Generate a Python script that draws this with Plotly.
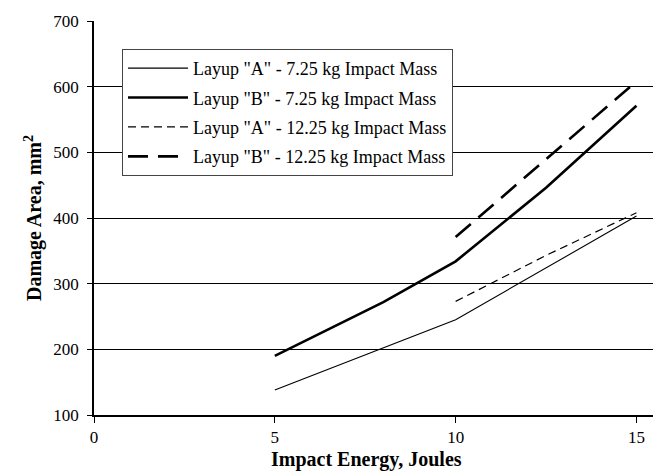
import plotly.graph_objects as go

# Data
energy_a_725 = [5, 10, 15]
area_a_725 = [138, 245, 403]

energy_b_725 = [5, 8, 10, 12.5, 15]
area_b_725 = [190, 272, 334, 446, 571]

energy_a_1225 = [10, 12.5, 15]
area_a_1225 = [273, 343, 408]

energy_b_1225 = [10, 15]
area_b_1225 = [371, 608]

names = [
    'Layup "A" - 7.25 kg Impact Mass',
    'Layup "B" - 7.25 kg Impact Mass',
    'Layup "A" - 12.25 kg Impact Mass',
    'Layup "B" - 12.25 kg Impact Mass',
]

x_ticks = [0, 5, 10, 15]
y_ticks = [100, 200, 300, 400, 500, 600, 700]

FONT = "Liberation Serif, Times New Roman, serif"

fig = go.Figure()
fig.add_trace(go.Scatter(x=energy_a_725, y=area_a_725, mode="lines", name=names[0],
                         legendgroup="g1", line=dict(color="black", width=1.1)))
fig.add_trace(go.Scatter(x=energy_b_725, y=area_b_725, mode="lines", name=names[1],
                         legendgroup="g2", line=dict(color="black", width=2.6)))
fig.add_trace(go.Scatter(x=energy_a_1225, y=area_a_1225, mode="lines", name=names[2],
                         legendgroup="g3", line=dict(color="black", width=1.2, dash="8px,5px")))
fig.add_trace(go.Scatter(x=energy_b_1225, y=area_b_1225, mode="lines", name=names[3],
                         legendgroup="g4", line=dict(color="black", width=2.6, dash="20px,10px")))

fig.update_layout(
    width=661, height=476,
    margin=dict(l=86, r=0, t=13, b=69),
    paper_bgcolor="white", plot_bgcolor="white",
    font=dict(family=FONT, size=17, color="black"),
    showlegend=True,
    legend=dict(
        x=0.0487, y=0.929, xanchor="left", yanchor="top",
        bgcolor="white", bordercolor="#444", borderwidth=1,
        font=dict(family=FONT, size=18, color="black"),
        itemwidth=60, tracegroupgap=3, traceorder="grouped",
    ),
    annotations=[
        dict(text="<b>Impact Energy, Joules</b>", xref="paper", yref="paper",
             x=0.474, y=-0.113, xanchor="center", yanchor="middle",
             showarrow=False, font=dict(family=FONT, size=20, color="black")),
        dict(text="<b>Damage Area, mm<sup>2</sup></b>", xref="paper", yref="paper",
             x=-0.106, y=0.5, xanchor="center", yanchor="middle", textangle=-90,
             showarrow=False, font=dict(family=FONT, size=20, color="black")),
    ],
)

fig.update_xaxes(
    range=[0, 15.9], tickvals=x_ticks, ticks="outside", ticklen=6,
    tickcolor="black", showline=True, linecolor="black", linewidth=1.5,
    showgrid=False, zeroline=False, tickfont=dict(family=FONT, size=17),
)
fig.update_yaxes(
    range=[100, 700], tickvals=y_ticks, ticks="outside",
    ticklen=5, tickcolor="black", showline=True, linecolor="black", linewidth=1.5,
    showgrid=True, gridcolor="black", gridwidth=1, zeroline=False,
    tickfont=dict(family=FONT, size=17), ticklabelstandoff=5,
)

fig.write_html("out.html")
